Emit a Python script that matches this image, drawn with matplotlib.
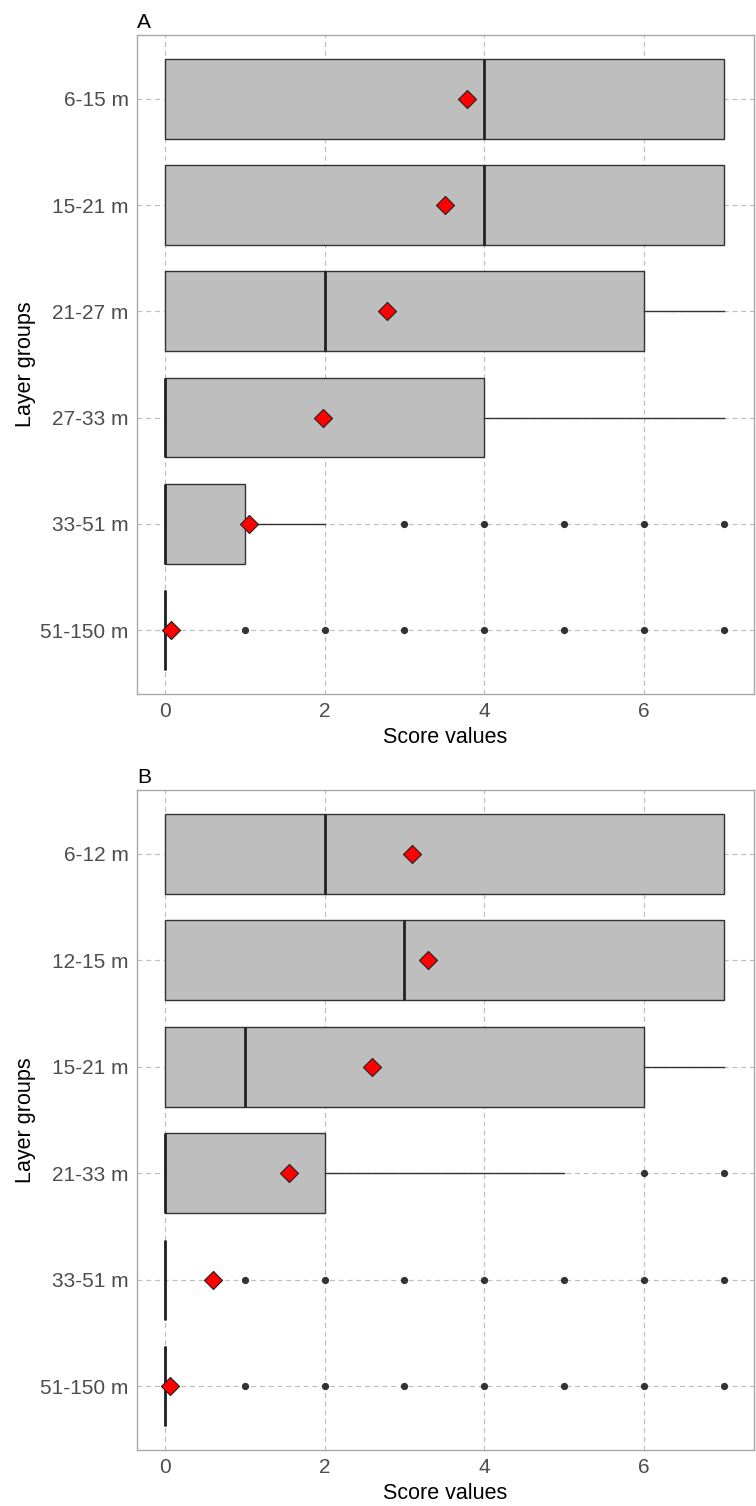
import matplotlib
matplotlib.use("Agg")
import matplotlib.pyplot as plt

plt.rcParams['font.family'] = ['Liberation Sans', 'DejaVu Sans']

# panel A: depth layers and box statistics
layers_a = ['6-15 m', '15-21 m', '21-27 m', '27-33 m', '33-51 m', '51-150 m']
q1_a = [0, 0, 0, 0, 0, 0]
med_a = [4, 4, 2, 0, 0, 0]
q3_a = [7, 7, 6, 4, 1, 0]
lo_a = [0, 0, 0, 0, 0, 0]
hi_a = [7, 7, 7, 7, 2, 0]
mean_a = [3.78, 3.51, 2.78, 1.98, 1.06, 0.08]
out_a = [[], [], [], [], [3, 4, 5, 6, 7], [1, 2, 3, 4, 5, 6, 7]]

# panel B
layers_b = ['6-12 m', '12-15 m', '15-21 m', '21-33 m', '33-51 m', '51-150 m']
q1_b = [0, 0, 0, 0, 0, 0]
med_b = [2, 3, 1, 0, 0, 0]
q3_b = [7, 7, 6, 2, 0, 0]
lo_b = [0, 0, 0, 0, 0, 0]
hi_b = [7, 7, 7, 5, 0, 0]
mean_b = [3.09, 3.30, 2.60, 1.56, 0.61, 0.07]
out_b = [[], [], [], [6, 7], [1, 2, 3, 4, 5, 6, 7], [1, 2, 3, 4, 5, 6, 7]]


def draw_panel(ax, layers, q1, med, q3, lo, hi, means, outs, letter):
    n = len(layers)
    pos = list(range(n, 0, -1))
    stats = []
    for i in range(n):
        stats.append(dict(q1=q1[i], med=med[i], q3=q3[i], whislo=lo[i],
                          whishi=hi[i], fliers=outs[i], label=layers[i]))
    ax.bxp(stats, positions=pos, vert=False, widths=0.75, patch_artist=True,
           showcaps=False, showfliers=True,
           boxprops=dict(facecolor='#BEBEBE', edgecolor='#333333', linewidth=1),
           medianprops=dict(color='#222222', linewidth=2),
           whiskerprops=dict(color='#333333', linewidth=1),
           flierprops=dict(marker='o', markersize=4.2, markerfacecolor='#333333',
                           markeredgecolor='#333333', linestyle='none'),
           zorder=3)
    ax.scatter(means, pos, marker='D', s=85, color='red', edgecolor='#222222',
               linewidth=0.8, zorder=5)
    ax.set_xlim(-0.35, 7.375)
    ax.set_ylim(0.4, n + 0.6)
    ax.set_xticks([0, 2, 4, 6])
    ax.set_yticks(pos)
    ax.set_yticklabels(layers)
    ax.grid(True, color='#C0C0C0', linestyle=(0, (4, 3)), linewidth=0.9)
    ax.set_axisbelow(True)
    for s in ax.spines.values():
        s.set_color('#A8A8A8')
        s.set_linewidth(1.0)
    ax.tick_params(length=0, labelsize=15, labelcolor='#4D4D4D', pad=6)
    ax.set_xlabel('Score values', fontsize=15.5, labelpad=4)
    ax.set_ylabel('Layer groups', fontsize=15.5, labelpad=3)
    ax.set_title(letter, loc='left', fontsize=15, pad=5)


fig = plt.figure(figsize=(7.56, 15.06), dpi=100)
ax_a = fig.add_axes([0.181, 0.5392, 0.816, 0.4376])
ax_b = fig.add_axes([0.181, 0.0372, 0.816, 0.4382])
draw_panel(ax_a, layers_a, q1_a, med_a, q3_a, lo_a, hi_a, mean_a, out_a, 'A')
draw_panel(ax_b, layers_b, q1_b, med_b, q3_b, lo_b, hi_b, mean_b, out_b, 'B')
fig.savefig('out.png', dpi=100)
